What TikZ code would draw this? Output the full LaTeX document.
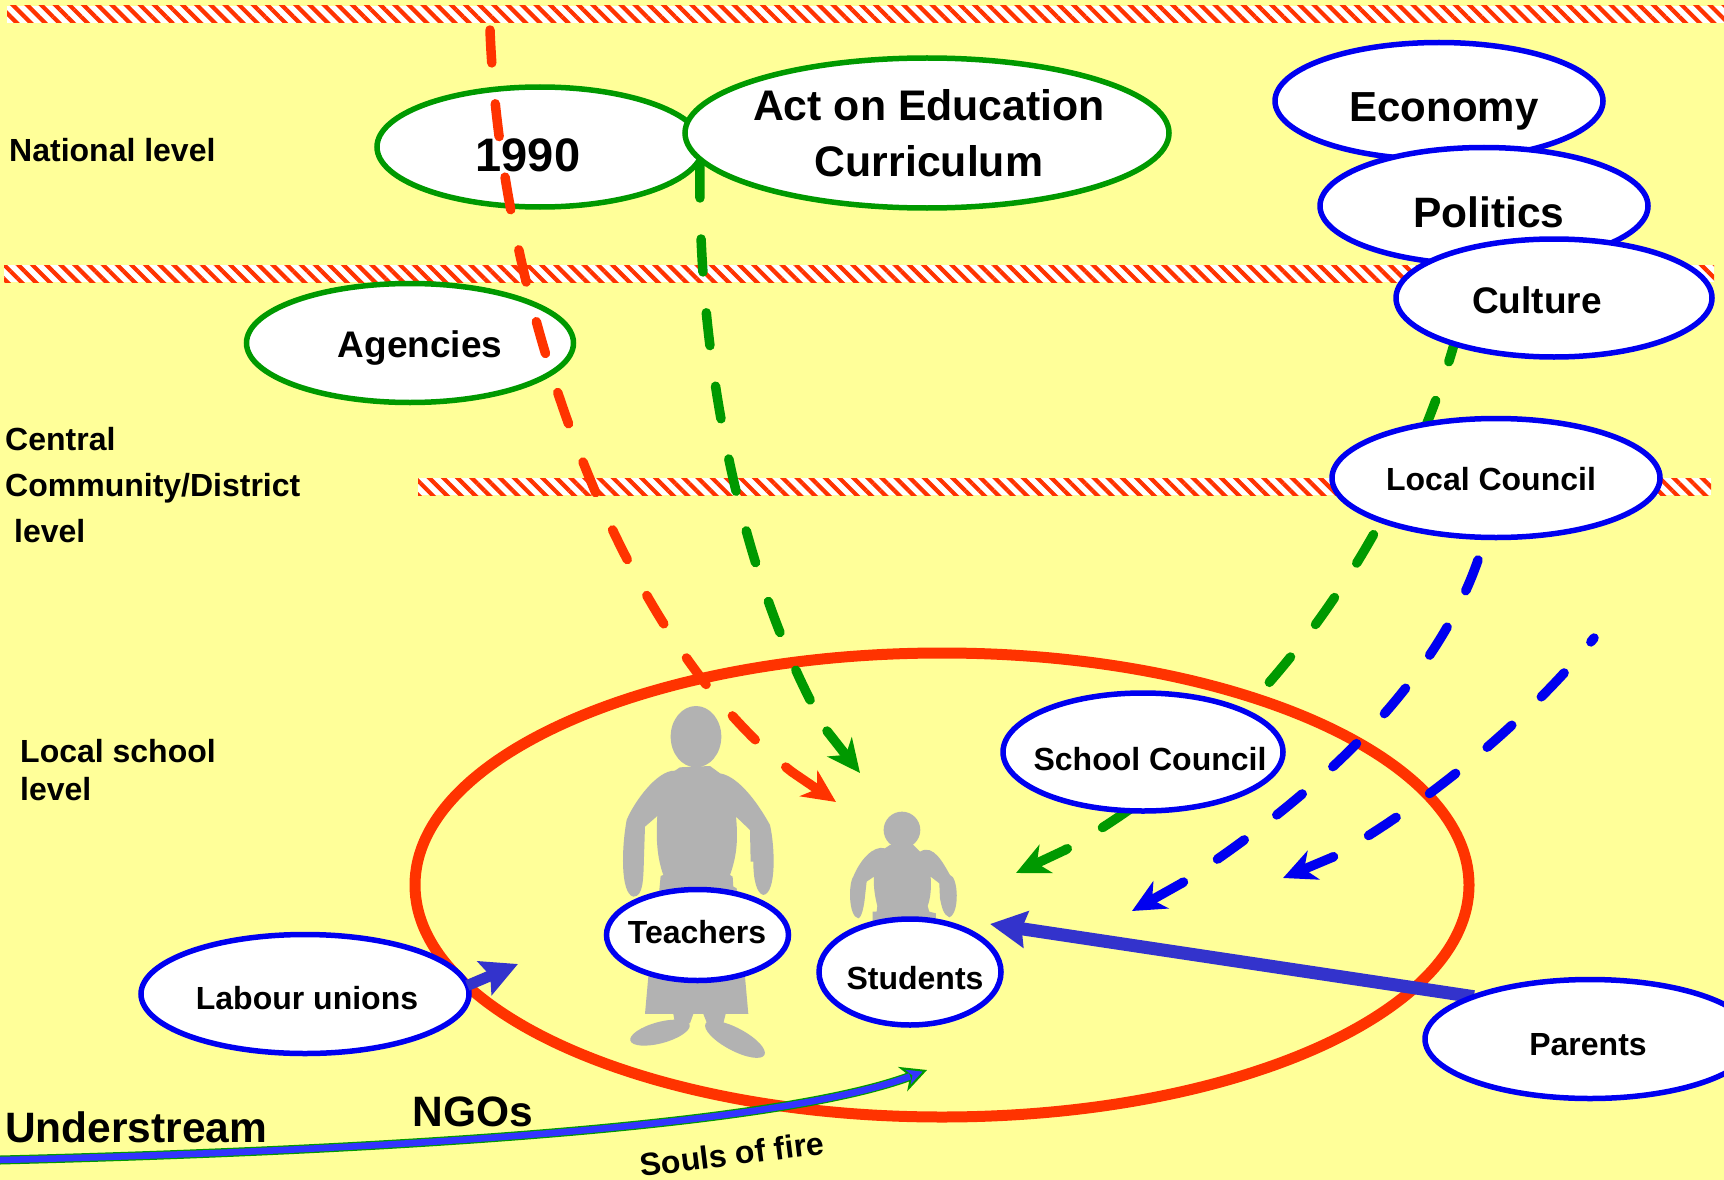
\documentclass[tikz,border=0pt]{standalone}
\usepackage{fontspec}
\setmainfont{Liberation Sans}
\usetikzlibrary{shapes.geometric,arrows.meta,patterns.meta}
\definecolor{bgy}{HTML}{FFFF99}
\definecolor{cred}{HTML}{FF3300}
\definecolor{cgreen}{HTML}{009900}
\definecolor{cblue}{HTML}{0000F0}
\definecolor{cthick}{HTML}{3333CC}
\definecolor{cstream}{HTML}{3333FF}
\definecolor{cgrey}{HTML}{B2B2B2}
\pgfdeclarelayer{lower}
\pgfdeclarelayer{under}
\pgfdeclarelayer{top}
\pgfsetlayers{lower,under,main,top}
\newcommand{\fsz}[1]{\fontsize{#1}{#1}\selectfont\bfseries}
\tikzset{
  oval/.style n args={2}{ellipse,draw,fill=white,line width=5.5pt,inner sep=0pt,outer sep=0pt,minimum width=#1pt,minimum height=#2pt},
  goval/.style n args={2}{oval={#1}{#2},draw=cgreen},
  boval/.style n args={2}{oval={#1}{#2},draw=cblue},
  txt/.style={inner sep=0pt,font=\fsz{#1},text=black},
  ltxt/.style={txt=#1,anchor=west},
  dashline/.style={line width=9.5pt,line cap=round,dash pattern=on 33pt off 41pt},
  headline/.style={line width=9.5pt,line cap=round,-{Stealth[length=33pt,width=31pt,inset=10pt]}},
  hatch/.style={pattern={Lines[angle=-45,distance=10pt,line width=4.2pt]},pattern color=cred},
  figure/.style={fill=cgrey,draw=none},
  zoomed/.style={shift={(580,680)},x=0.3333pt,y=-0.3333pt},
}
\newcommand{\band}[4]{\fill[white] (#1,#2) rectangle (#3,#4); \fill[hatch] (#1,#2) rectangle (#3,#4);}
\begin{document}
\begin{tikzpicture}[x=1pt,y=-1pt]
\useasboundingbox (0,0) rectangle (1724,1180);
\begin{pgfonlayer}{lower}
\fill[bgy] (0,0) rectangle (1724,1180);
\band{7}{6}{1724}{23}
\band{4}{265}{1714}{282}
\band{418}{478}{1711}{495}
\draw[cred,line width=11pt] (942,885) ellipse [x radius=527,y radius=232];
\begin{scope}[zoomed]
\fill[figure] (348,170) ellipse [x radius=76,y radius=92];
\fill[figure] (300,262) -- (390,258) -- (420,280) .. controls (480,290) and (540,380) .. (570,435)
 .. controls (585,500) and (590,640) .. (550,645) .. controls (530,640) and (520,600) .. (520,545)
 -- (512,545) -- (510,450) -- (468,410) .. controls (475,480) and (470,530) .. (450,585) -- (458,590) -- (460,620) -- (470,625)
 -- (495,890) -- (505,1002) -- (437,1002) -- (430,1030) -- (385,1040) -- (370,1002) -- (340,1002) -- (330,1030) -- (285,1030) -- (280,1002)
 -- (195,1002) -- (205,890) -- (238,630) -- (242,588) -- (250,585) .. controls (230,530) and (228,470) .. (232,408)
 -- (195,440) -- (192,530) .. controls (190,600) and (190,650) .. (160,650) .. controls (120,640) and (125,500) .. (140,420)
 .. controls (160,370) and (230,270) .. (285,272) -- cycle;
\fill[figure,rotate around={15:(240,1058)}] (240,1058) ellipse [x radius=92,y radius=32];
\fill[figure,rotate around={-28:(465,1078)}] (465,1078) ellipse [x radius=100,y radius=34];
\fill[figure] (966,450) circle [radius=55];
\fill[figure] (930,495) -- (1000,495) -- (1020,515) .. controls (1060,490) and (1090,550) .. (1110,585)
 .. controls (1135,590) and (1140,700) .. (1108,712) .. controls (1090,705) and (1085,680) .. (1080,655)
 -- (1078,610) -- (1052,590) .. controls (1055,630) and (1050,660) .. (1043,678) -- (1048,695) -- (1068,700) -- (1068,740) -- (878,740) -- (878,695) -- (890,695) -- (892,678)
 .. controls (885,650) and (880,620) .. (882,590) -- (860,605) -- (855,650) .. controls (850,700) and (840,715) .. (835,715)
 .. controls (805,710) and (805,610) .. (820,590) .. controls (840,540) and (880,495) .. (915,505) -- cycle;
\end{scope}
\end{pgfonlayer}

\node[goval={326}{120}] (y1990) at (540,147) {};
\node[goval={484}{150}] (act) at (927,133) {};
\node[goval={327}{119}] (agencies) at (410,343) {};
\node[boval={328}{117}] (economy) at (1439,101) {};
\node[boval={328}{117}] (politics) at (1484,206) {};
\node[boval={316}{118}] (culture) at (1554,298) {};
\node[boval={328}{119}] (council) at (1496,478) {};
\node[boval={280}{118}] (school) at (1143,752) {};
\node[boval={182}{91}] (teachers) at (697.5,935) {};
\node[boval={182}{106}] (students) at (910,972) {};
\node[boval={328}{119}] (labour) at (305,994) {};
\node[boval={330}{119}] (parents) at (1590,1039) {};

\node[txt=47] (t1990) at (528,155) {1990};
\node[txt=42.8] (tact1) at (929,105) {Act on Education};
\node[txt=42.8] (tact2) at (929,161) {Curriculum};
\node[txt=42] (teco) at (1444,111) {Economy};
\node[txt=42.5] (tpol) at (1489,212) {Politics};
\node[txt=37] (tcul) at (1537,300) {Culture};
\node[txt=37] (tage) at (420,348) {Agencies};
\node[txt=32] (tcou) at (1491,479) {Local Council};
\node[txt=32] (tsch) at (1150,759) {School Council};
\node[txt=32] (ttea) at (697,932) {Teachers};
\node[txt=32] (tstu) at (915,978) {Students};
\node[txt=32] (tlab) at (307,998) {Labour unions};
\node[txt=32] (tpar) at (1588,1045) {Parents};
\node[ltxt=32] (lnat) at (9,150) {National level};
\node[ltxt=32] (lcen) at (5,439) {Central};
\node[ltxt=32] (lcom) at (5,488) {Community/District};
\node[ltxt=32] (llev) at (14,531) {level};
\node[ltxt=32] (lloc) at (20,751) {Local school};
\node[ltxt=32] (lle2) at (20,789) {level};
\node[ltxt=42.5] (lund) at (5,1127) {Understream};
\node[txt=42.5] (lngo) at (473,1112) {NGOs};
\node[txt=32,rotate=7] (lsou) at (732,1154) {Souls of fire};

\coordinate (redstart) at (490,30);
\coordinate (redlast) at (792,772);
\coordinate (redend) at (836,802);
\coordinate (greenstart) at (700,165);
\coordinate (greenlast) at (827,731);
\coordinate (greenend) at (860,773);
\coordinate (greentwostart) at (1458,330);
\coordinate (greentwolast) at (1065,850);
\coordinate (greentwoend) at (1016,873);
\coordinate (blueonestart) at (1478,560);
\coordinate (blueonelast) at (1182,883);
\coordinate (blueoneend) at (1132,911);
\coordinate (bluetwostart) at (1594,638);
\coordinate (bluetwolast) at (1333,857);
\coordinate (bluetwoend) at (1283,878);
\coordinate (thickend) at (990,924);
\coordinate (unionend) at (518,964);
\coordinate (streamstart) at (0,1160);
\coordinate (streamend) at (927,1070);

\begin{pgfonlayer}{under}
\draw[dashline,cgreen] (greentwostart) .. controls (1410,510) and (1280,730) .. (greentwolast);
\draw[headline,cgreen] (greentwolast) -- (greentwoend);
\draw[line width=13pt,cthick,-{Stealth[length=36pt,width=36pt,inset=4pt]}] (parents.160) -- (thickend);
\end{pgfonlayer}

\begin{pgfonlayer}{top}
\draw[dashline,cred] (redstart) .. controls (500,290) and (610,630) .. (redlast);
\draw[headline,cred] (redlast) -- (redend);
\draw[dashline,cgreen] (greenstart) .. controls (697,370) and (745,590) .. (greenlast);
\draw[headline,cgreen] (greenlast) -- (greenend);
\draw[dashline,cblue] (blueonestart) .. controls (1440,670) and (1340,780) .. (blueonelast);
\draw[headline,cblue] (blueonelast) -- (blueoneend);
\draw[dashline,cblue,dash phase=28pt] (bluetwostart) .. controls (1545,700) and (1450,790) .. (bluetwolast);
\draw[headline,cblue] (bluetwolast) -- (bluetwoend);
\draw[line width=11pt,cthick,-{Stealth[length=36pt,width=36pt,inset=6pt]}] (labour.3) -- (unionend);
\draw[cgreen,line width=9pt,-{Stealth[length=26pt,width=26pt,inset=8pt,line width=2pt,fill=cstream]}] (streamstart) .. controls (400,1150) and (780,1125) .. (streamend);
\draw[cstream,line width=6.5pt,shorten >=18pt] (streamstart) .. controls (400,1150) and (780,1125) .. (streamend);
\end{pgfonlayer}
\end{tikzpicture}
\end{document}
